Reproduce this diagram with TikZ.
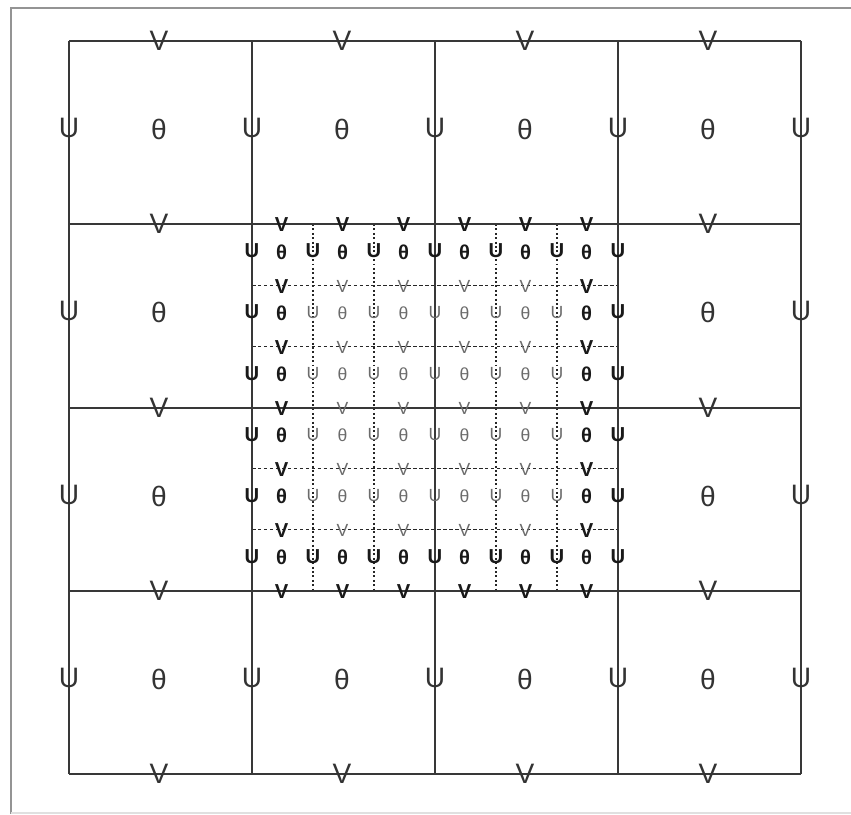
\documentclass[tikz,border=0pt]{standalone}
\usepackage{fontspec}
\setmainfont{Liberation Sans}
\begin{document}
\begin{tikzpicture}[x=0.02cm, y=-0.02cm]
  \tikzset{
    coarse/.style={draw=black!78, line width=1pt},
    dotline/.style={draw=black!85, line width=0.6pt, dash pattern=on 1.1pt off 1.4pt},
    dashline/.style={draw=black!85, line width=0.6pt, dash pattern=on 2pt off 1.4pt},
    lab/.style={inner sep=0pt, text=black!80, font=\fontsize{16}{16}\selectfont},
    flab/.style={inner sep=0pt, text=black!58, font=\fontsize{10}{10}\selectfont},
    blab/.style={inner sep=0pt, text=black!90, font=\fontsize{11.5}{11.5}\selectfont\bfseries}
  }
  \useasboundingbox (0,0) rectangle (851,814);
  % outer frame
  \draw[black!42, line width=1.5pt] (851,8) -- (11,8) -- (11,814);
  \draw[black!12, line width=0.6pt] (11,813) -- (851,813);
  % fine grid
  \foreach \k in {1,2,4,5} {
    \draw[dotline] (252+61*\k,224) -- (252+61*\k,591);
    \draw[dashline] (252,224+61.17*\k) -- (618,224+61.17*\k);
  }
  % coarse grid
  \foreach \k in {0,...,4} \draw[coarse] (69+183*\k,41) -- (69+183*\k,774);
  \foreach \yy in {41,224,408,591,774} \draw[coarse] (69,\yy) -- (801,\yy);
  % coarse labels
  \foreach \i in {0,...,3} \foreach \j in {0,...,4} {
    \pgfmathtruncatemacro\incore{(\i>0)&&(\i<3)&&(\j>0)&&(\j<4)}
    \ifnum\incore=0 \node[lab] (cv-\i-\j) at (159+183*\i,41+183.25*\j) {V}; \fi
  }
  \foreach \i in {0,...,4} \foreach \j in {0,...,3} {
    \pgfmathtruncatemacro\incore{(\i>0)&&(\i<4)&&(\j>0)&&(\j<3)}
    \ifnum\incore=0 \node[lab] (cu-\i-\j) at (69+183*\i,128+183.25*\j) {U}; \fi
  }
  \foreach \i in {0,...,3} \foreach \j in {0,...,3} {
    \pgfmathtruncatemacro\incore{(\i>0)&&(\i<3)&&(\j>0)&&(\j<3)}
    \ifnum\incore=0 \node[lab] (ct-\i-\j) at (159+183*\i,129.5+183.25*\j) {θ}; \fi
  }
  % fine labels, rim in bold
  \foreach \i in {0,...,5} \foreach \j in {0,...,6} {
    \pgfmathtruncatemacro\isrim{(\i==0)||(\i==5)||(\j==0)||(\j==6)}
    \ifnum\isrim=1 \node[blab] (fv-\i-\j) at (281.5+61*\i,225+61.08*\j) {V};
    \else \node[flab] (fv-\i-\j) at (281.5+61*\i,225+61.08*\j) {V}; \fi
  }
  \foreach \i in {0,...,6} \foreach \j in {0,...,5} {
    \pgfmathtruncatemacro\isrim{(\i==0)||(\i==6)||(\j==0)||(\j==5)}
    \ifnum\isrim=1 \node[blab] (fu-\i-\j) at (252+61*\i,251+61.08*\j) {U};
    \else \node[flab] (fu-\i-\j) at (252+61*\i,251+61.08*\j) {U}; \fi
  }
  \foreach \i in {0,...,5} \foreach \j in {0,...,5} {
    \pgfmathtruncatemacro\isrim{(\i==0)||(\i==5)||(\j==0)||(\j==5)}
    \ifnum\isrim=1 \node[blab] (ft-\i-\j) at (281.5+61*\i,252+61.08*\j) {θ};
    \else \node[flab] (ft-\i-\j) at (281.5+61*\i,252+61.08*\j) {θ}; \fi
  }
\end{tikzpicture}
\end{document}
